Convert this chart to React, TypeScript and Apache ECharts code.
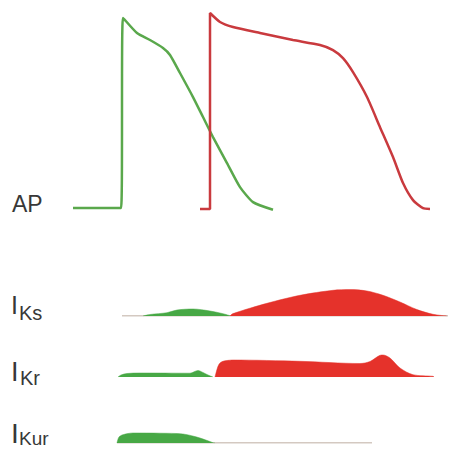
import React, { useEffect, useRef } from "react";
import * as echarts from "echarts";

// Time axis (ms, arbitrary origin) shared by all panels
const TIME_MIN = 0;
const TIME_MAX = 380;

// Action potentials (time, mV)
const apAtrial: [number, number][] = [
  [3, -85], [51, -85], [53, 32], [67, 22.7], [80, 18.4], [93, 13.5], [100, 9.2],
  [110, -1.9], [123, -16.7], [133, -29], [143, -41.3], [157, -57.3], [170, -72.1],
  [183, -81.3], [203, -86],
];
const apVentricular: [number, number][] = [
  [130, -85.5], [140, -85.5], [140, 35], [150, 29.5], [163, 26.4], [190, 22.7],
  [223, 18.4], [250, 15.3], [263, 12.2], [273, 7.2], [283, -1.4], [297, -16.7],
  [310, -35.2], [323, -53.6], [333, -69.6], [343, -80.1], [353, -85], [360, -85.5],
];

// IKs current (relative amplitude)
const iksAtrial: [number, number][] = [
  [73, 0], [80, 1.5], [97, 3.3], [107, 6], [123, 7], [140, 5], [153, 2.3], [160, 0.3],
];
const iksVentricular: [number, number][] = [
  [160, 0], [163, 2.4], [197, 12.7], [230, 20.7], [263, 25.7], [280, 26.4],
  [297, 25], [313, 20.7], [330, 14], [347, 6.4], [363, 1.7], [377, 0],
];
const iksBaseline: [number, number][] = [[52, 0], [378, 0]];

// IKr current
const ikrAtrial: [number, number][] = [
  [48, 0], [51, 2], [57, 3.5], [70, 4], [120, 3.8], [128, 6.5], [133, 4.5], [138, 2], [143, 0],
];
const ikrVentricular: [number, number][] = [
  [145, 0], [146, 4], [148, 10.7], [150, 14], [153, 15.7], [157, 16.5], [163, 17],
  [230, 15.7], [290, 13.5], [300, 15.5], [310, 21.7], [313, 22], [320, 19],
  [330, 9], [343, 2.3], [363, 0.7], [364, 0],
];

// IKur current
const ikurAtrial: [number, number][] = [
  [47, 0], [49, 6], [53, 8.3], [63, 10], [90, 9.8], [113, 9], [130, 5], [143, 0.3], [145, 0],
];
const ikurBaseline: [number, number][] = [[47, 0], [302, 0]];

const GREEN_LINE = "#5aa84c";
const RED_LINE = "#c93a3e";
const GREEN_FILL = "#47a845";
const RED_FILL = "#e5322b";
const BASE_COLOR = "#a89282";
const TEXT_COLOR = "#383838";
const FONT = "Liberation Sans, Arial, sans-serif";

export default function App() {
  const ref = useRef<HTMLDivElement>(null);
  useEffect(() => {
    if (!ref.current) return;
    const chart = echarts.init(ref.current, undefined, { renderer: "svg" });

    const grids = [
      { left: 70, right: 0, top: 13, height: 200 },
      { left: 70, right: 0, top: 286, height: 30 },
      { left: 70, right: 0, top: 347, height: 30 },
      { left: 70, right: 0, top: 413, height: 30 },
    ];
    const xAxes = grids.map((_, i) => ({
      type: "value" as const, gridIndex: i, min: TIME_MIN, max: TIME_MAX, show: false,
    }));
    const yAxes = [
      { type: "value" as const, gridIndex: 0, min: -88, max: 35, show: false },
      { type: "value" as const, gridIndex: 1, min: 0, max: 30, show: false },
      { type: "value" as const, gridIndex: 2, min: 0, max: 30, show: false },
      { type: "value" as const, gridIndex: 3, min: 0, max: 30, show: false },
    ];

    const apLine = (data: [number, number][], color: string) => ({
      type: "line", xAxisIndex: 0, yAxisIndex: 0, data, showSymbol: false,
      smooth: 0.2, lineStyle: { color, width: 2.5 }, z: 3,
    });
    const area = (idx: number, data: [number, number][], color: string) => ({
      type: "line", xAxisIndex: idx, yAxisIndex: idx, data, showSymbol: false,
      smooth: 0.3, lineStyle: { color, width: 0.5 }, areaStyle: { color, opacity: 1 }, z: 3,
    });
    const base = (idx: number, data: [number, number][]) => ({
      type: "line", xAxisIndex: idx, yAxisIndex: idx, data, showSymbol: false,
      lineStyle: { color: BASE_COLOR, width: 1 }, z: 2,
    });

    const label = (main: string, sub: string, x: number, y: number, fs: number, sx: number, sy: number, sfs: number) => [
      { type: "text", x, y, style: { text: main, font: `${fs}px ${FONT}`, fill: TEXT_COLOR, verticalAlign: "top" } },
      { type: "text", x: sx, y: sy, style: { text: sub, font: `${sfs}px ${FONT}`, fill: TEXT_COLOR, verticalAlign: "top" } },
    ];

    chart.setOption({
      animation: false,
      grid: grids,
      xAxis: xAxes,
      yAxis: yAxes,
      series: [
        apLine(apAtrial, GREEN_LINE),
        apLine(apVentricular, RED_LINE),
        base(1, iksBaseline),
        area(1, iksAtrial, GREEN_FILL),
        area(1, iksVentricular, RED_FILL),
        area(2, ikrAtrial, GREEN_FILL),
        area(2, ikrVentricular, RED_FILL),
        base(3, ikurBaseline),
        area(3, ikurAtrial, GREEN_FILL),
      ],
      graphic: [
        { type: "text", x: 12, y: 192, style: { text: "AP", font: `23px ${FONT}`, fill: TEXT_COLOR, verticalAlign: "top" } },
        ...label("I", "Ks", 11, 292, 25, 19, 303, 20),
        ...label("I", "Kr", 11, 358, 27, 20, 368, 20),
        ...label("I", "Kur", 11, 419, 28, 19, 429, 19),
      ],
    });
    return () => chart.dispose();
  }, []);
  return (
    <div
      ref={ref}
      style={{ position: "fixed", left: 0, top: 0, width: 450, height: 450, background: "#fff" }}
    />
  );
}
